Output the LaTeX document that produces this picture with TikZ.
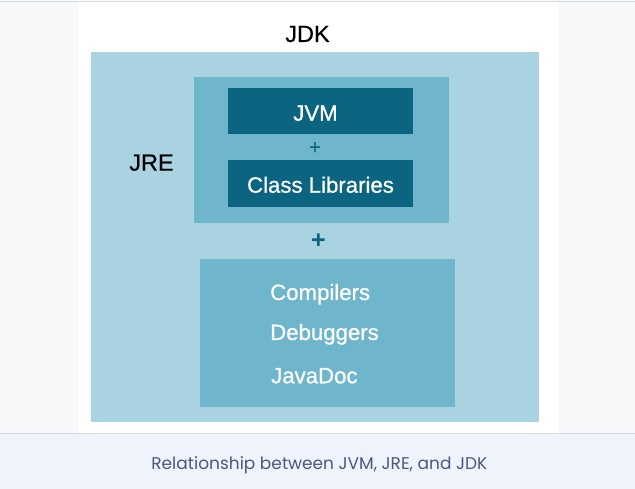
\documentclass[tikz,border=0pt]{standalone}
\usepackage{fontspec}
\setmainfont{Liberation Sans}
\newfontfamily\capfont{Poppins}
\newfontfamily\medfont[FakeBold=0.8]{Liberation Sans}
\newfontfamily\lblfont[FakeBold=0.4]{Liberation Sans}
\definecolor{pagebg}{HTML}{F7F8FA}
\definecolor{capbg}{HTML}{EFF4FC}
\definecolor{rulec}{HTML}{D5DAE3}
\definecolor{jdkc}{HTML}{A9D3E0}
\definecolor{jrec}{HTML}{6FB5CB}
\definecolor{darkc}{HTML}{0B6480}
\definecolor{captxt}{HTML}{50557F}
\tikzset{
  lbl/.style={inner sep=0pt, outer sep=0pt, anchor=base, font=\lblfont\fontsize{23.5}{28}\selectfont, text=black},
  boxtxt/.style={inner sep=0pt, outer sep=0pt, anchor=base, font=\medfont\fontsize{22.2}{26}\selectfont, text=white},
  tooltxt/.style={inner sep=0pt, outer sep=0pt, anchor=base west, font=\medfont\fontsize{22.2}{26}\selectfont, text=white},
  plus/.style={inner sep=0pt, outer sep=0pt, text=darkc}
}
\begin{document}
\begin{tikzpicture}[x=1pt,y=-1pt]
\useasboundingbox (0,0) rectangle (635,489);
% page background
\fill[pagebg] (0,0) rectangle (635,433.5);
\fill[white] (79,2.5) rectangle (559,433.5);
\fill[capbg] (0,433.5) rectangle (635,489);
\draw[rulec, line width=1.2pt] (0,1.5) -- (635,1.5);
\draw[rulec, line width=1.2pt] (0,433.5) -- (635,433.5);
% boxes
\fill[jdkc] (91.3,51.7) rectangle (539,422.3);
\fill[jrec] (194,76.7) rectangle (449,223.3);
\fill[darkc] (227.5,88) rectangle (412.7,134);
\fill[darkc] (227.5,160.5) rectangle (412.7,206.7);
\fill[jrec] (200,259.5) rectangle (455,407.3);
% labels
\node[lbl] (jdk) at (307.5,42) {JDK};
\node[lbl] (jre) at (151.5,170.7) {JRE};
\node[boxtxt] (jvm) at (315.5,120.7) {JVM};
\node[boxtxt] (cls) at (320.5,192.7) {Class Libraries};
\node[plus, font=\medfont\fontsize{20}{24}\selectfont] (p1) at (315,148) {+};
\node[plus, font=\fontsize{25}{28}\selectfont\bfseries] (p2) at (318.3,241) {+};
\node[tooltxt] (comp) at (270.2,300) {Compilers};
\node[tooltxt] (dbg) at (270.2,340) {Debuggers};
\node[tooltxt] (jdoc) at (271.2,383.3) {JavaDoc};
% caption
\node[inner sep=0pt, anchor=base, text=captxt, font=\capfont\fontsize{17}{20}\selectfont] (cap) at (319.3,469.3) {Relationship between JVM, JRE, and JDK};
\end{tikzpicture}
\end{document}
